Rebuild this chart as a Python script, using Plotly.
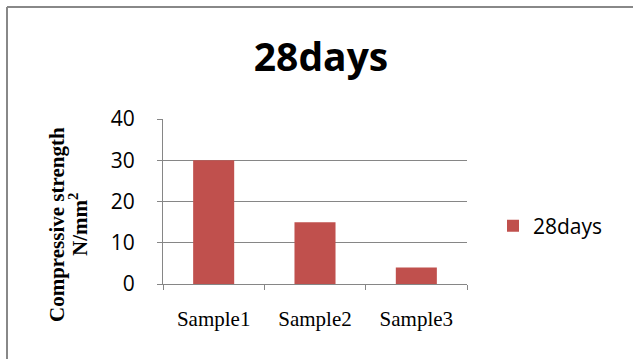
import plotly.graph_objects as go

# Compressive strength after 28 days of curing
samples = ["Sample1", "Sample2", "Sample3"]
strength_28d = [30, 15, 4]
y_ticks = [0, 10, 20, 30, 40]
series_name = "28days"

W, H = 633, 359
BAR = "#C0504D"
GRID = "#868686"
SANS = "Open Sans, Calibri, sans-serif"
SERIF = "Liberation Serif, Times New Roman, serif"

fig = go.Figure(
    go.Bar(
        x=samples,
        y=strength_28d,
        name=series_name,
        marker=dict(color=BAR, line=dict(width=0)),
        showlegend=True,
    )
)

fig.update_layout(
    width=W,
    height=H,
    autosize=False,
    margin=dict(l=163, r=166, t=119, b=75),
    paper_bgcolor="white",
    plot_bgcolor="white",
    bargap=0.595,
    title=dict(
        text="<b>28days</b>",
        font=dict(family=SANS, size=39, color="black"),
        xref="container", yref="container",
        x=321 / W, y=1 - 57 / H,
        xanchor="center", yanchor="middle",
    ),
    legend=dict(
        xref="container", yref="container",
        x=493 / W, y=1 - 226 / H,
        xanchor="left", yanchor="middle",
        font=dict(family=SANS, size=21, color="black"),
        bgcolor="rgba(0,0,0,0)",
    ),
    xaxis=dict(
        showline=True, linecolor=GRID, linewidth=1,
        ticks="outside", tickson="boundaries", ticklen=5, tickcolor=GRID,
        tickfont=dict(family=SERIF, size=21, color="black"),
        ticklabelstandoff=16,
        showgrid=False,
    ),
    yaxis=dict(
        range=[0, 40],
        tickvals=y_ticks,
        showline=True, linecolor=GRID, linewidth=1,
        ticks="outside", ticklen=5, tickcolor=GRID,
        tickfont=dict(family=SANS, size=21, color="black"),
        ticklabelstandoff=18,
        showgrid=True, gridcolor=GRID, gridwidth=1,
        zeroline=False,
    ),
    shapes=[
        # chart frame (top and left edges)
        dict(type="line", xref="paper", yref="paper",
             x0=-156 / 304, x1=470 / 304, y0=1 + 112 / 165, y1=1 + 112 / 165,
             line=dict(color="#888888", width=2)),
        dict(type="line", xref="paper", yref="paper",
             x0=-156 / 304, x1=-156 / 304, y0=1 + 112 / 165, y1=-80 / 165,
             line=dict(color="#888888", width=2)),
    ],
    annotations=[
        dict(text="<b>Compressive strength</b>", textangle=-90,
             xref="paper", yref="paper",
             x=(57 - 163) / 304, y=(284 - 225) / 165,
             xanchor="center", yanchor="middle", showarrow=False,
             font=dict(family=SERIF, size=21, color="black")),
        dict(text="<b>N/mm<sup>2</sup></b>", textangle=-90,
             xref="paper", yref="paper",
             x=(78 - 163) / 304, y=(284 - 225) / 165,
             xanchor="center", yanchor="middle", showarrow=False,
             font=dict(family=SERIF, size=21, color="black")),
    ],
)

fig.write_html("out.html")
